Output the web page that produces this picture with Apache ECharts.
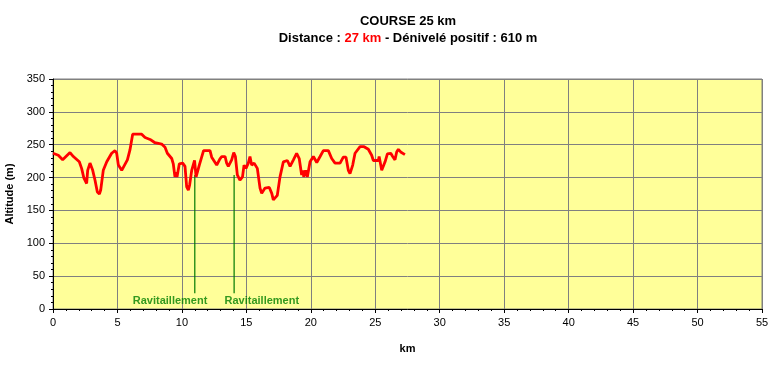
<!DOCTYPE html>
<html><head><meta charset="utf-8">
<script src="https://cdn.jsdelivr.net/npm/echarts@6/dist/echarts.min.js"></script>
<style>html,body{margin:0;padding:0;background:#fff}#c{width:773px;height:365px}</style>
</head><body><div id="c"></div>
<script>
const distanceKm = [0,0.41,0.75,1.32,1.58,2.04,2.22,2.4,2.61,2.69,2.87,3.08,3.26,3.44,3.6,3.7,3.9,4.17,4.55,4.81,4.94,5.07,5.33,5.46,5.77,5.97,6.18,6.88,7.14,7.53,7.91,8.43,8.69,8.87,9.21,9.33,9.46,9.57,9.62,9.8,10.06,10.24,10.37,10.5,10.6,10.76,10.98,11.1,11.2,11.35,11.68,12.18,12.31,12.7,12.94,13.09,13.35,13.47,13.6,13.86,14.02,14.15,14.3,14.5,14.7,14.82,14.97,15.15,15.28,15.41,15.6,15.85,16.06,16.19,16.45,16.78,16.97,17.09,17.22,17.4,17.61,17.87,18.18,18.39,18.65,18.9,19.1,19.29,19.4,19.45,19.6,19.73,19.94,20.2,20.46,20.72,20.97,21.36,21.62,21.88,22.27,22.52,22.73,22.91,23.04,23.25,23.43,23.82,24.13,24.46,24.72,24.85,25.24,25.3,25.5,25.76,25.94,26.2,26.35,26.53,26.66,26.79,26.97,27.12,27.3];
const altitudeM = [237,234,227,238,232,224,214,199,191,211,222,211,196,178,175,181,211,224,237,241,237,219,211,212,227,242,266,266,261,258,253,251,246,237,229,221,201,208,201,221,222,217,186,181,189,211,226,201,201,219,241,241,231,219,228,232,232,222,217,227,238,232,204,196,201,219,214,222,232,219,222,214,184,176,184,185,176,166,165,173,201,224,226,217,227,237,229,204,211,201,211,201,224,232,223,232,241,241,229,222,222,231,231,211,206,219,237,247,247,243,234,226,226,232,211,224,236,237,232,227,239,243,239,237,235];
const xTicks = [0,5,10,15,20,25,30,35,40,45,50,55];
const yTicks = [0,50,100,150,200,250,300,350];
const supplyKm = [11.0, 14.05];
const supplyTop = [204, 204];
const supplyBottom = [24, 24];
const supplyLabel = ['Ravitaillement', 'Ravitaillement'];
const supplyLabelKm = [9.08, 16.2];
const supplyLabelAlt = [12, 12];

const chart = echarts.init(document.getElementById('c'), null, {renderer:'canvas'});
const font = 'Liberation Sans, Arial, sans-serif';
const series = [{
  type:'line', data: distanceKm.map((d,i)=>[d, altitudeM[i]]),
  showSymbol:false, symbol:'none', lineStyle:{color:'#ff0000', width:2.8}, z:5, animation:false
}];
supplyKm.forEach((k,i)=>{
  series.push({type:'line', data:[[k,supplyTop[i]],[k,supplyBottom[i]]], symbol:'none',
    lineStyle:{color:'#007a00', width:1.2}, z:4, animation:false});
});
series.push({type:'scatter', data: supplyLabelKm.map((k,i)=>[k, supplyLabelAlt[i], supplyLabel[i]]),
  symbolSize:0, animation:false,
  label:{show:true, position:'inside', formatter:p=>p.data[2], color:'#008000', fontWeight:'bold', fontSize:11, fontFamily:font}});

chart.setOption({
  backgroundColor:'#ffffff',
  animation:false,
  title:{
    text:'COURSE 25 km',
    subtext:'{b|Distance : }{r|27 km}{b| - Dénivelé positif : 610 m}',
    left:403, textAlign:'center', top:10, itemGap:4,
    textStyle:{fontSize:13, fontWeight:'bold', color:'#000', fontFamily:font},
    subtextStyle:{rich:{b:{fontSize:13, fontWeight:'bold', color:'#000', fontFamily:font}, r:{fontSize:13, fontWeight:'bold', color:'#ff0000', fontFamily:font}}}
  },
  grid:{left:53, right:11, top:79, bottom:56, containLabel:false, outerBoundsMode:'none', show:true, backgroundColor:'#ffff99', borderColor:'#808080', borderWidth:1},
  xAxis:{type:'value', min:0, max:55, interval:5,
    name:'km', nameLocation:'middle', nameGap:34,
    nameTextStyle:{fontWeight:'bold', fontSize:11, color:'#000', fontFamily:font},
    axisLine:{show:true, onZero:false, lineStyle:{color:'#000'}},
    axisTick:{show:true, length:4, inside:false, lineStyle:{color:'#000'}},
    minorTick:{show:true, splitNumber:5, length:2, lineStyle:{color:'#000'}},
    axisLabel:{fontSize:11, color:'#000', fontFamily:font, margin:8, formatter:v=>xTicks.includes(v)?String(v):''},
    splitLine:{show:true, lineStyle:{color:'#808080', width:1}}
  },
  yAxis:{type:'value', min:0, max:350, interval:50,
    name:'Altitude (m)', nameLocation:'middle', nameGap:37, nameRotate:90,
    nameTextStyle:{fontWeight:'bold', fontSize:11, color:'#000', fontFamily:font},
    axisLine:{show:true, lineStyle:{color:'#000'}},
    axisTick:{show:true, length:4, lineStyle:{color:'#000'}},
    minorTick:{show:true, splitNumber:5, length:2, lineStyle:{color:'#000'}},
    axisLabel:{fontSize:11, color:'#000', fontFamily:font, margin:8, formatter:v=>yTicks.includes(v)?String(v):''},
    splitLine:{show:true, lineStyle:{color:'#808080', width:1}}
  },
  series: series
});
</script></body></html>
